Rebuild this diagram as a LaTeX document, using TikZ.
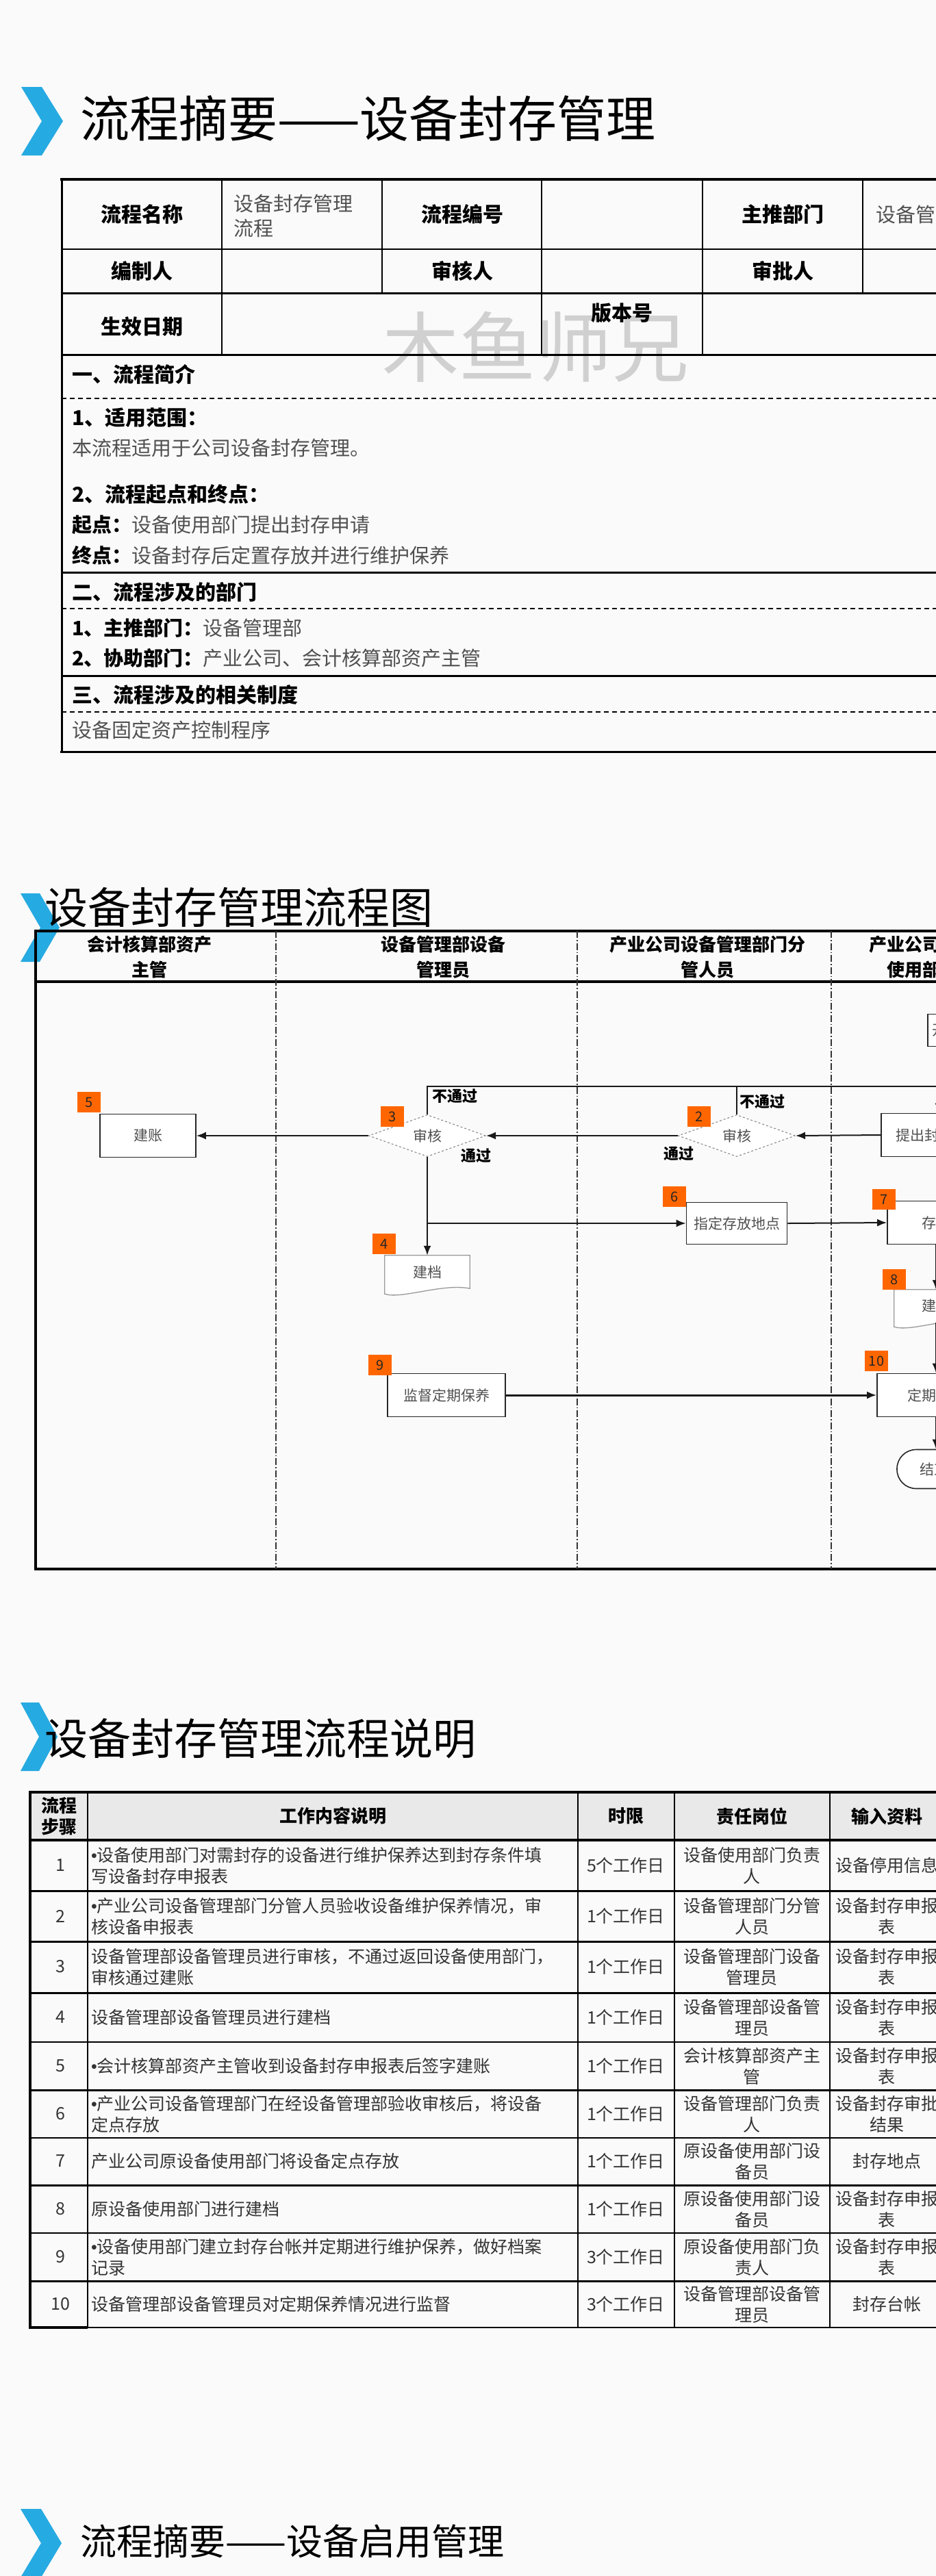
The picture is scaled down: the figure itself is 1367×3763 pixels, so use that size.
\documentclass[tikz,border=0pt]{standalone}
\usepackage{fontspec}
\usepackage{xcolor}
\usetikzlibrary{arrows.meta, positioning, shapes.geometric}
\setmainfont{Noto Sans CJK SC}
\newfontfamily\latinfont{Liberation Sans}
\definecolor{chevblue}{RGB}{38,170,226}
\definecolor{stepmark}{RGB}{255,102,0}
\definecolor{inkgray}{RGB}{80,80,80}
\definecolor{paper}{RGB}{250,250,250}
\definecolor{headgray}{RGB}{233,233,233}
\definecolor{wmgray}{RGB}{208,208,208}
\newcommand{\pxfont}[2]{\fontsize{#1}{#2}\selectfont}
\newcommand{\dotmark}{{\latinfont •}}

\begin{document}
\begin{tikzpicture}[x=1pt, y=-1pt,
    heading/.style={anchor=west, inner sep=0pt, text=black},
    lbl/.style={inner sep=0pt, text=black, font={\pxfont{30}{36}\bfseries}},
    sect/.style={anchor=west, inner sep=0pt, text=black, font={\pxfont{30}{36}\bfseries}},
    val/.style={anchor=west, inner sep=0pt, text=inkgray, align=left, font={\pxfont{29}{36}}},
    rule/.style={black, line width=#1},
    rule/.default=1.5pt,
    dashrule/.style={black, line width=1.5pt, dash pattern=on 7pt off 5pt},
    lanehead/.style={inner sep=0pt, align=center, text=black, font={\pxfont{26}{37}\bfseries}},
    lanesep/.style={black!80, line width=1.2pt, dash pattern=on 10pt off 3pt on 1.5pt off 3pt},
    proc/.style={draw=black!85, line width=1.6pt, fill=white, text=inkgray, inner sep=0pt, font={\pxfont{21}{26}}},
    decide/.style={diamond, aspect=2.8, draw=black!50, dashed, line width=1pt, fill=white, text=inkgray, inner sep=0pt, minimum width=171pt, minimum height=61pt, font={\pxfont{21}{26}}},
    paperdoc/.style={inner sep=0pt, text=inkgray, font={\pxfont{21}{26}}},
    docline/.style={draw=black!40, fill=white, line width=1.3pt},
    stepno/.style={fill=stepmark, inner sep=0pt, minimum width=34pt, minimum height=30pt, text=black!85, font={\pxfont{20}{24}}},
    flow/.style={draw=black!90, line width=2pt, -{Latex[length=14pt, width=11pt]}},
    link/.style={draw=black!90, line width=2pt},
    verdict/.style={inner sep=0pt, text=black, font={\pxfont{22}{26}\bfseries}},
    cell/.style={inner sep=0pt, align=center, text=black!80, font={\pxfont{25}{31}}},
    cellL/.style={cell, anchor=west, align=left},
    cellhead/.style={inner sep=0pt, align=center, text=black, font={\pxfont{26}{31}\bfseries}},
  ]
  % Page
  \useasboundingbox (0,0) rectangle (1367,3763);
  \clip (0,0) rectangle (1367,3763);
  \fill[paper] (0,0) rectangle (1367,3763);

  % ---- Summary ----
  \fill[chevblue] (31,127) -- (61,127) -- (92,177) -- (61,227) -- (31,227) -- (61,177) -- cycle;
  \node[heading, font={\pxfont{72}{80}}] (title1) at (117,173) {流程摘要——设备封存管理};
  % Watermark
  \node[text=wmgray, inner sep=0pt, font={\pxfont{112}{120}}] (wm) at (782,507) {木鱼师兄};
  % Table rules
  \draw[rule=4pt] (88,262) -- (1400,262);
  \draw[rule=3pt] (90,260) -- (90,1100);
  \draw[rule] (90,364) -- (1400,364);
  \draw[rule=3pt] (90,428) -- (1400,428);
  \draw[rule=3pt] (90,518) -- (1400,518);
  \draw[dashrule] (90,582) -- (1400,582);
  \draw[rule=3pt] (90,836) -- (1400,836);
  \draw[dashrule] (90,889) -- (1400,889);
  \draw[rule=3pt] (90,987) -- (1400,987);
  \draw[dashrule] (90,1040) -- (1400,1040);
  \draw[rule=3pt] (88,1098) -- (1400,1098);
  \draw[rule] (324,262) -- (324,518);
  \draw[rule] (558,262) -- (558,428);
  \draw[rule] (791,262) -- (791,518);
  \draw[rule] (1026,262) -- (1026,518);
  \draw[rule] (1260,262) -- (1260,428);
  % Header cells
  \node[lbl] (name) at (207,313) {流程名称};
  \node[val] (nameval) at (341,315) {设备封存管理\\流程};
  \node[lbl] (code) at (675,313) {流程编号};
  \node[lbl] (owner) at (1143,313) {主推部门};
  \node[val] (ownerval) at (1279,313) {设备管理部};
  \node[lbl] (maker) at (207,396) {编制人};
  \node[lbl] (checker) at (675,396) {审核人};
  \node[lbl] (approver) at (1143,396) {审批人};
  \node[lbl] (since) at (207,477) {生效日期};
  \node[lbl] (version) at (908,457) {版本号};
  % Sections
  \node[sect] (sec1) at (105,547) {一、流程简介};
  \node[sect] (scope) at (105,610) {1、适用范围：};
  \node[val] (scopeval) at (105,654) {本流程适用于公司设备封存管理。};
  \node[sect] (ends) at (105,722) {2、流程起点和终点：};
  \node[val] (startval) at (105,767) {{\bfseries\color{black}起点：}设备使用部门提出封存申请};
  \node[val] (endval) at (105,811) {{\bfseries\color{black}终点：}设备封存后定置存放并进行维护保养};
  \node[sect] (sec2) at (105,865) {二、流程涉及的部门};
  \node[val] (dept1) at (105,917) {{\bfseries\color{black}1、主推部门：}设备管理部};
  \node[val] (dept2) at (105,961) {{\bfseries\color{black}2、协助部门：}产业公司、会计核算部资产主管};
  \node[sect] (sec3) at (105,1015) {三、流程涉及的相关制度};
  \node[val] (rules) at (105,1066) {设备固定资产控制程序};

  % ---- Flow chart ----
  \fill[chevblue] (30,1305) -- (58,1305) -- (87,1355) -- (58,1405) -- (30,1405) -- (59,1355) -- cycle;
  \node[heading, font={\pxfont{63}{70}}] (title2) at (65,1326) {设备封存管理流程图};
  % Frame and lanes
  \draw[rule=3.5pt] (50,1360) -- (1400,1360);
  \draw[rule=3.5pt] (52,1358) -- (52,2294);
  \draw[rule=3.5pt] (52,1434) -- (1400,1434);
  \draw[rule=4pt] (50,2292) -- (1400,2292);
  \draw[lanesep] (403,1360) -- (403,2292);
  \draw[lanesep] (843,1360) -- (843,2292);
  \draw[lanesep] (1214,1360) -- (1214,2292);
  \node[lanehead] (lane1) at (218,1398) {会计核算部资产\\主管};
  \node[lanehead] (lane2) at (647,1398) {设备管理部设备\\管理员};
  \node[lanehead] (lane3) at (1033,1398) {产业公司设备管理部门分\\管人员};
  \node[lanehead] (lane4) at (1347,1398) {产业公司设备\\使用部门};
  % Steps
  \node[proc, anchor=west, inner xsep=7pt, minimum height=47pt] (start) at (1354,1505) {开始};
  \node[proc, minimum width=168pt, minimum height=63pt] (b1) at (1371,1658) {提出封存申请};
  \node[decide] (d2) at (1076,1659) {审核};
  \node[decide] (d3) at (624,1659) {审核};
  \node[proc, minimum width=140pt, minimum height=63pt] (b5) at (216,1659) {建账};
  \node[paperdoc, minimum width=124pt, minimum height=48pt] (doc4) at (624,1858) {};
  \draw[docline] (doc4.north west) -- (doc4.north east) -- (doc4.south east)
    .. controls +(-40,-8) and +(25,8) .. ([yshift=-8pt]doc4.south west) -- cycle;
  \node[paperdoc] at (doc4) {建档};
  \node[proc, minimum width=147pt, minimum height=61pt] (b6) at (1076,1787) {指定存放地点};
  \node[proc, minimum width=142pt, minimum height=63pt] (b7) at (1367,1786) {存放};
  \node[paperdoc, minimum width=122pt, minimum height=46pt] (doc8) at (1367,1907) {};
  \draw[docline] (doc8.north west) -- (doc8.north east) -- (doc8.south east)
    .. controls +(-40,-8) and +(25,8) .. ([yshift=-8pt]doc8.south west) -- cycle;
  \node[paperdoc] at (doc8) {建档};
  \node[proc, minimum width=172pt, minimum height=63pt] (b9) at (652,2038) {监督定期保养};
  \node[proc, minimum width=172pt, minimum height=63pt] (b10) at (1367,2038) {定期保养};
  \node[proc, rounded corners=28pt, minimum width=108pt, minimum height=57pt] (end) at (1364,2146) {结束};
  % Step numbers
  \node[stepno] (s2) at (1021,1631) {2};
  \node[stepno] (s3) at (573,1631) {3};
  \node[stepno] (s4) at (561,1817) {4};
  \node[stepno] (s5) at (130,1610) {5};
  \node[stepno] (s6) at (985,1748) {6};
  \node[stepno] (s7) at (1291,1752) {7};
  \node[stepno] (s8) at (1306,1869) {8};
  \node[stepno] (s9) at (555,1994) {9};
  \node[stepno] (s10) at (1280,1988) {10};
  % Connectors
  \coordinate (back) at (1371,1587);
  \draw[flow] (start.south -| b1.north) -- (b1.north);
  \draw[link] (d3.north) |- (back);
  \draw[link] (d2.north) -- (d2.north |- back);
  \draw[flow] (b1.west) -- (d2.east);
  \draw[flow] (d2.west) -- (d3.east);
  \draw[flow] (d3.west) -- (b5.east);
  \draw[flow] (d3.south) -- (doc4.north);
  \draw[flow] (d3.south |- b6.west) -- (b6.west);
  \draw[flow] (b6.east) -- (b7.west);
  \draw[flow] (b7.south) -- (doc8.north);
  \draw[flow] ([yshift=-2pt]doc8.south) -- (b10.north);
  \draw[flow] (b10.south) -- (end.north -| b10.south);
  \draw[flow, line width=3pt] (b9.east) -- (b10.west);
  \node[verdict] (no3) at (664,1601) {不通过};
  \node[verdict] (yes3) at (695,1688) {通过};
  \node[verdict] (no2) at (1113,1609) {不通过};
  \node[verdict] (yes2) at (991,1685) {通过};

  % ---- Step table ----
  \fill[chevblue] (30,2487) -- (57,2487) -- (84,2537) -- (57,2587) -- (30,2587) -- (57,2537) -- cycle;
  \node[heading, font={\pxfont{63}{70}}] (title3) at (65,2540) {设备封存管理流程说明};
  \fill[headgray] (44,2618) rectangle (1400,2688);
  \draw[rule=4pt] (42,2618) -- (1400,2618);
  \draw[rule=3.5pt] (44,2688) -- (1400,2688);
  \draw[rule=3pt] (44,2762) -- (1400,2762);
  \draw[rule=3pt] (44,2836) -- (1400,2836);
  \draw[rule=3pt] (44,2911) -- (1400,2911);
  \draw[rule] (44,2983) -- (1400,2983);
  \draw[rule=3pt] (44,3053) -- (1400,3053);
  \draw[rule] (44,3123) -- (1400,3123);
  \draw[rule=3pt] (44,3192) -- (1400,3192);
  \draw[rule] (44,3262) -- (1400,3262);
  \draw[rule=3pt] (44,3332) -- (1400,3332);
  \draw[rule] (44,3400) -- (1400,3400);
  \draw[rule=4pt] (42,3400) -- (128,3400);
  \draw[rule=4pt] (44,2616) -- (44,3402);
  \draw[rule] (128,2618) -- (128,3400);
  \draw[rule] (844,2618) -- (844,3400);
  \draw[rule] (985,2618) -- (985,3400);
  \draw[rule] (1212,2618) -- (1212,3400);
  % Header row
  \node[cellhead] (hstep) at (86,2653) {流程\\步骤};
  \node[cellhead] (hwork) at (486,2653) {工作内容说明};
  \node[cellhead] (htime) at (914,2653) {时限};
  \node[cellhead] (hrole) at (1098,2653) {责任岗位};
  \node[cellhead] (hinput) at (1295,2653) {输入资料};
  % Row 1
  \node[cell] (r1a) at (88,2725) {1};
  \node[cellL] (r1b) at (133,2725) {\dotmark 设备使用部门对需封存的设备进行维护保养达到封存条件填\\写设备封存申报表};
  \node[cell] (r1c) at (914,2725) {5个工作日};
  \node[cell] (r1d) at (1098,2725) {设备使用部门负责\\人};
  \node[cell] (r1e) at (1295,2725) {设备停用信息};
  % Row 2
  \node[cell] (r2a) at (88,2799) {2};
  \node[cellL] (r2b) at (133,2799) {\dotmark 产业公司设备管理部门分管人员验收设备维护保养情况，审\\核设备申报表};
  \node[cell] (r2c) at (914,2799) {1个工作日};
  \node[cell] (r2d) at (1098,2799) {设备管理部门分管\\人员};
  \node[cell] (r2e) at (1295,2799) {设备封存申报\\表};
  % Row 3
  \node[cell] (r3a) at (88,2873) {3};
  \node[cellL] (r3b) at (133,2873) {设备管理部设备管理员进行审核，不通过返回设备使用部门，\\审核通过建账};
  \node[cell] (r3c) at (914,2873) {1个工作日};
  \node[cell] (r3d) at (1098,2873) {设备管理部门设备\\管理员};
  \node[cell] (r3e) at (1295,2873) {设备封存申报\\表};
  % Row 4
  \node[cell] (r4a) at (88,2947) {4};
  \node[cellL] (r4b) at (133,2947) {设备管理部设备管理员进行建档};
  \node[cell] (r4c) at (914,2947) {1个工作日};
  \node[cell] (r4d) at (1098,2947) {设备管理部设备管\\理员};
  \node[cell] (r4e) at (1295,2947) {设备封存申报\\表};
  % Row 5
  \node[cell] (r5a) at (88,3018) {5};
  \node[cellL] (r5b) at (133,3018) {\dotmark 会计核算部资产主管收到设备封存申报表后签字建账};
  \node[cell] (r5c) at (914,3018) {1个工作日};
  \node[cell] (r5d) at (1098,3018) {会计核算部资产主\\管};
  \node[cell] (r5e) at (1295,3018) {设备封存申报\\表};
  % Row 6
  \node[cell] (r6a) at (88,3088) {6};
  \node[cellL] (r6b) at (133,3088) {\dotmark 产业公司设备管理部门在经设备管理部验收审核后，将设备\\定点存放};
  \node[cell] (r6c) at (914,3088) {1个工作日};
  \node[cell] (r6d) at (1098,3088) {设备管理部门负责\\人};
  \node[cell] (r6e) at (1295,3088) {设备封存审批\\结果};
  % Row 7
  \node[cell] (r7a) at (88,3157) {7};
  \node[cellL] (r7b) at (133,3157) {产业公司原设备使用部门将设备定点存放};
  \node[cell] (r7c) at (914,3157) {1个工作日};
  \node[cell] (r7d) at (1098,3157) {原设备使用部门设\\备员};
  \node[cell] (r7e) at (1295,3157) {封存地点};
  % Row 8
  \node[cell] (r8a) at (88,3227) {8};
  \node[cellL] (r8b) at (133,3227) {原设备使用部门进行建档};
  \node[cell] (r8c) at (914,3227) {1个工作日};
  \node[cell] (r8d) at (1098,3227) {原设备使用部门设\\备员};
  \node[cell] (r8e) at (1295,3227) {设备封存申报\\表};
  % Row 9
  \node[cell] (r9a) at (88,3297) {9};
  \node[cellL] (r9b) at (133,3297) {\dotmark 设备使用部门建立封存台帐并定期进行维护保养，做好档案\\记录};
  \node[cell] (r9c) at (914,3297) {3个工作日};
  \node[cell] (r9d) at (1098,3297) {原设备使用部门负\\责人};
  \node[cell] (r9e) at (1295,3297) {设备封存申报\\表};
  % Row 10
  \node[cell] (r10a) at (88,3366) {10};
  \node[cellL] (r10b) at (133,3366) {设备管理部设备管理员对定期保养情况进行监督};
  \node[cell] (r10c) at (914,3366) {3个工作日};
  \node[cell] (r10d) at (1098,3366) {设备管理部设备管\\理员};
  \node[cell] (r10e) at (1295,3366) {封存台帐};

  % ---- Next page title ----
  \fill[chevblue] (30,3665) -- (60,3665) -- (90,3715) -- (60,3765) -- (30,3765) -- (60,3715) -- cycle;
  \node[heading, font={\pxfont{53}{60}}] (title4) at (117,3712) {流程摘要——设备启用管理};
\end{tikzpicture}
\end{document}
